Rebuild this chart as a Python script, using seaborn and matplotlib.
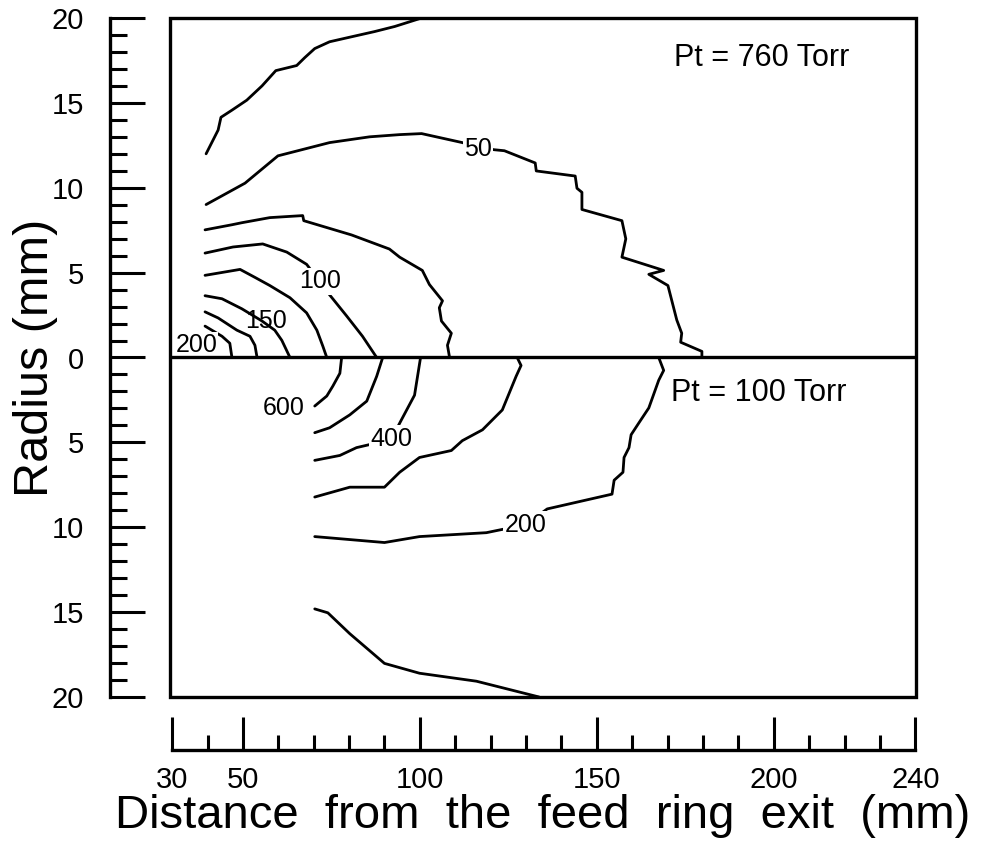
import numpy as np
import pandas as pd
import matplotlib
matplotlib.use("Agg")
import matplotlib.pyplot as plt
import seaborn as sns
from matplotlib.patches import Rectangle
from matplotlib.ticker import FixedLocator, FuncFormatter

# ---------------- data ----------------
# Upper half: Pt = 760 Torr (radius positive), lower half: Pt = 100 Torr (radius negative)
c760_outer_x = [39.6, 43.0, 43.8, 46.9, 51.1, 55.4, 59.3, 65.2, 67.5, 70.3, 74.5, 80.2, 87.2, 92.9, 100.5]
c760_outer_y = [12.0, 13.4, 14.15, 14.57, 15.16, 16.0, 16.9, 17.2, 17.67, 18.2, 18.6, 18.87, 19.2, 19.5, 20.0]

c760_50_x = [39.6, 50.6, 59.9, 74.5, 85.8, 94.3, 100.5, 112.0, 116.5, 121.0, 123.9, 132.6, 132.9, 143.9, 144.4,
             145.8, 145.8, 157.1, 158.2, 157.1, 168.9, 164.7, 170.1, 172.6, 174.0, 173.7, 179.7, 179.7]
c760_50_y = [9.01, 10.27, 11.88, 12.66, 13.0, 13.13, 13.19, 12.66, 12.4, 12.24, 12.18, 11.46, 10.99, 10.69, 9.97,
             9.73, 8.72, 8.06, 6.99, 5.91, 5.13, 4.9, 4.24, 2.21, 1.43, 0.9, 0.36, 0.0]

c760_75_x = [39.3, 46.9, 49.7, 57.6, 66.9, 67.2, 80.7, 91.4, 94.3, 100.7, 102.7, 106.4, 105.5, 106.1, 108.9, 107.8, 108.4]
c760_75_y = [7.52, 7.82, 7.94, 8.24, 8.36, 8.06, 7.22, 6.39, 5.91, 5.13, 4.30, 3.34, 2.93, 2.15, 1.43, 0.72, 0.0]

c760_100_x = [39.3, 47.2, 55.6, 62.4, 68.0, 71.7, 74.0, 79.3, 83.8, 87.8]
c760_100_y = [6.15, 6.51, 6.69, 6.21, 5.49, 4.48, 3.82, 2.45, 1.25, 0.0]

c760_125_x = [39.3, 49.2, 53.4, 57.6, 63.3, 68.0, 70.9, 72.6, 73.7]
c760_125_y = [4.84, 5.19, 4.72, 4.24, 3.52, 2.63, 1.61, 0.66, 0.0]

c760_150_x = [39.3, 44.1, 49.7, 55.4, 59.0, 61.0, 63.3]
c760_150_y = [3.64, 3.46, 2.87, 2.15, 1.61, 1.01, 0.0]

c760_175_x = [39.3, 43.0, 48.3, 52.0, 53.4, 54.0]
c760_175_y = [2.69, 2.33, 1.61, 1.25, 0.72, 0.0]

c760_200_x = [39.3, 44.1, 46.3, 46.9]
c760_200_y = [1.85, 1.25, 0.84, 0.0]

c100_600_x = [77.9, 77.4, 75.4, 73.7, 70.3]
c100_600_y = [0.0, -0.93, -1.69, -2.27, -2.86]

c100_500_x = [89.5, 87.8, 85.0, 80.2, 74.5, 70.3]
c100_500_y = [0.0, -1.11, -2.57, -3.38, -4.14, -4.43]

c100_400_x = [100.2, 98.5, 94.8, 92.0, 85.8, 82.1, 77.4, 70.3]
c100_400_y = [0.0, -2.22, -3.67, -4.78, -5.13, -5.31, -5.77, -6.06]

c100_300_x = [127.5, 128.6, 127.2, 123.3, 117.7, 112.0, 108.9, 99.9, 94.3, 90.0, 80.2, 70.3]
c100_300_y = [0.0, -0.47, -1.11, -3.09, -4.26, -4.90, -5.48, -5.89, -6.76, -7.64, -7.64, -8.22]

c100_200_x = [167.5, 168.9, 167.5, 164.7, 161.9, 159.7, 159.1, 157.7, 157.4, 154.9, 154.3, 136.0, 129.8,
              121.6, 118.8, 99.9, 90.0, 70.3]
c100_200_y = [0.0, -0.76, -1.34, -2.97, -3.85, -4.55, -5.31, -5.89, -6.76, -7.23, -8.05, -8.92, -9.85,
              -10.2, -10.32, -10.55, -10.90, -10.55]

c100_100_x = [70.3, 74.0, 80.2, 90.0, 99.9, 116.0, 133.7]
c100_100_y = [-14.81, -15.04, -16.27, -18.02, -18.6, -19.07, -20.0]

label_text = ["50", "100", "150", "200", "600", "400", "200"]
label_x = [116.5, 71.7, 56.5, 36.8, 61.6, 92.0, 129.8]
label_y = [12.3, 4.48, 2.15, 0.72, -2.97, -4.78, -9.85]
label_boxed = [True, True, False, True, False, True, True]

panel_text = ["Pt = 760 Torr", "Pt = 100 Torr"]
panel_x = [196.6, 195.7]
panel_y = [17.67, -2.1]

x_major = [30, 50, 100, 150, 200, 240]
x_minor = [40, 60, 70, 80, 90, 110, 120, 130, 140, 160, 170, 180, 190, 210, 220, 230]
y_major = [-20, -15, -10, -5, 0, 5, 10, 15, 20]
y_minor = list(range(-20, 21))

# ---------------- build long table ----------------
lines = [
    (c760_outer_x, c760_outer_y), (c760_50_x, c760_50_y), (c760_75_x, c760_75_y),
    (c760_100_x, c760_100_y), (c760_125_x, c760_125_y), (c760_150_x, c760_150_y),
    (c760_175_x, c760_175_y), (c760_200_x, c760_200_y),
    (c100_600_x, c100_600_y), (c100_500_x, c100_500_y), (c100_400_x, c100_400_y),
    (c100_300_x, c100_300_y), (c100_200_x, c100_200_y), (c100_100_x, c100_100_y),
]
frames = []
for i, (xs, ys) in enumerate(lines):
    frames.append(pd.DataFrame({"x": xs, "y": ys, "line": i, "order": range(len(xs))}))
df = pd.concat(frames, ignore_index=True)

# ---------------- figure ----------------
sns.set_theme(style="white")
plt.rcParams["font.family"] = ["Liberation Sans", "DejaVu Sans"]
plt.rcParams["text.color"] = "black"
plt.rcParams["axes.labelcolor"] = "black"
plt.rcParams["xtick.color"] = "black"
plt.rcParams["ytick.color"] = "black"

fig = plt.figure(figsize=(9.86, 8.47), dpi=100)
ax = fig.add_axes([170 / 986, 1 - 697 / 847, 746 / 986, 679 / 847])

sns.lineplot(data=df, x="x", y="y", units="line", estimator=None, sort=False,
             color="black", linewidth=2.0, legend=False, ax=ax, zorder=2)

ax.axhline(0, color="black", linewidth=2.4, zorder=5)
ax.add_patch(Rectangle((0, 0), 1, 1, transform=ax.transAxes, fill=False,
                       edgecolor="black", linewidth=2.4, clip_on=False, zorder=6))

for t, lx, ly, boxed in zip(label_text, label_x, label_y, label_boxed):
    kw = {}
    if boxed:
        kw["bbox"] = dict(boxstyle="square,pad=0.05", facecolor="white", edgecolor="none")
    ax.text(lx, ly, t, fontsize=18, ha="center", va="center", color="black", zorder=3, **kw)

for t, px, py in zip(panel_text, panel_x, panel_y):
    ax.text(px, py, t, fontsize=22, ha="center", va="center", color="black", zorder=3)

ax.set_xlim(29.4, 240.2)
ax.set_ylim(-20, 20)

for s in ["top", "right"]:
    ax.spines[s].set_visible(False)
ax.spines["left"].set_position(("outward", 43))
ax.spines["bottom"].set_position(("outward", 38))
ax.spines["left"].set_bounds(-20, 20)
ax.spines["bottom"].set_bounds(30, 240)
for s in ["left", "bottom"]:
    ax.spines[s].set_linewidth(2.4)
    ax.spines[s].set_color("black")

ax.xaxis.set_major_locator(FixedLocator(x_major))
ax.xaxis.set_minor_locator(FixedLocator(x_minor))
ax.yaxis.set_major_locator(FixedLocator(y_major))
ax.yaxis.set_minor_locator(FixedLocator(y_minor))
ax.yaxis.set_major_formatter(FuncFormatter(lambda v, p: f"{abs(int(round(v)))}"))
ax.xaxis.set_major_formatter(FuncFormatter(lambda v, p: f"{int(round(v))}"))

ax.tick_params(axis="x", which="major", direction="in", length=24, width=2.2, labelsize=21,
               pad=12, colors="black", bottom=True, top=False)
ax.tick_params(axis="x", which="minor", direction="in", length=11, width=2.2, bottom=True, top=False)
ax.tick_params(axis="y", which="major", direction="in", length=25, width=2.2, labelsize=21,
               pad=19, colors="black", left=True, right=False)
ax.tick_params(axis="y", which="minor", direction="in", length=12, width=2.2, left=True, right=False)

ax.set_xlabel("Distance  from  the  feed  ring  exit  (mm)", fontsize=34, color="black")
ax.set_ylabel("Radius (mm)", fontsize=35, color="black")
ax.xaxis.set_label_coords(0.5, -0.143)
ax.yaxis.set_label_coords(-0.15, 0.5)

fig.savefig("out.png", dpi=100, facecolor="white")
